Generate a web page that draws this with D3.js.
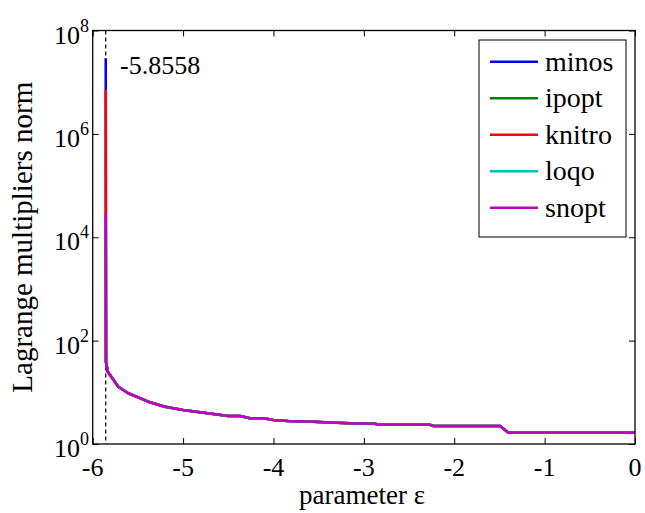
<!DOCTYPE html>
<html>
<head>
<meta charset="utf-8">
<script src="https://cdn.jsdelivr.net/npm/d3@7"></script>
<style>
  html, body { margin: 0; padding: 0; background: #fff; }
  svg { display: block; }
  svg text { font-family: "Liberation Serif", "Times New Roman", Times, "DejaVu Serif", serif; }
</style>
</head>
<body>
<svg id="chart" width="645" height="513"></svg>
<script>
// Continuation parameter values (epsilon)
const epsilon = [-5.8558, -5.853, -5.833, -5.717, -5.606, -5.385, -5.20, -5.0, -4.813, -4.666,
  -4.50, -4.37, -4.26, -4.11, -4.0, -3.836, -3.56, -3.30, -3.08, -2.90,
  -2.82, -2.27, -2.23, -1.493, -1.40, 0];

// Norm of the Lagrange multipliers after the first point (shared by all solvers)
const curveNorm = [38.6, 25, 12.8, 9.6, 6.6, 5.27, 4.55, 4.1, 3.8, 3.48,
  3.48, 3.14, 3.14, 2.91, 2.79, 2.70, 2.58, 2.49, 2.49, 2.36,
  2.36, 2.23, 2.23, 1.65, 1.65];

// Solvers, their colours and the multiplier norm each one reports at epsilon = -5.8558
const solvers = ["minos", "ipopt", "knitro", "loqo", "snopt"];
const colors = ["#0000ff", "#008000", "#ff0000", "#00bfbf", "#bf00bf"];
const spikeNorm = [2.9e7, 1.5e4, 7.06e6, 2.2e4, 2.94e4];

const xTicks = [-6, -5, -4, -3, -2, -1, 0];
const yTickExp = [0, 2, 4, 6, 8];
const criticalEps = -5.8558;

const serif = "'Liberation Serif', 'Times New Roman', Times, 'DejaVu Serif', serif";
const svg = d3.select("#chart").attr("font-family", serif);
const plotLeft = 92.7, plotRight = 635, plotTop = 30.5, plotBottom = 444;

const x = d3.scaleLinear().domain([-6, 0]).range([plotLeft, plotRight]);
const y = d3.scaleLog().domain([1, 1e8]).range([plotBottom, plotTop]);

const series = solvers.map((name, i) => ({
  name, color: colors[i],
  values: epsilon.map((e, j) => ({ e, v: j === 0 ? spikeNorm[i] : curveNorm[j - 1] }))
}));

// Dashed marker at the critical parameter value
svg.append("line")
  .attr("x1", x(criticalEps)).attr("x2", x(criticalEps))
  .attr("y1", plotTop).attr("y2", plotBottom)
  .attr("stroke", "#000").attr("stroke-width", 1.2)
  .attr("stroke-dasharray", "4,3");

const line = d3.line().x(d => x(d.e)).y(d => y(d.v));
svg.append("g").selectAll("path").data(series).join("path")
  .attr("d", d => line(d.values))
  .attr("fill", "none")
  .attr("stroke", d => d.color)
  .attr("stroke-width", 2.6)
  .attr("stroke-linejoin", "round");

// Axes: ticks drawn inward on all four sides
const tickLen = 6;
const xAxisB = d3.axisBottom(x).tickValues(xTicks).tickSize(-tickLen).tickFormat("");
const xAxisT = d3.axisTop(x).tickValues(xTicks).tickSize(-tickLen).tickFormat("");
const yVals = yTickExp.map(p => Math.pow(10, p));
const yAxisL = d3.axisLeft(y).tickValues(yVals).tickSize(-tickLen).tickFormat("");
const yAxisR = d3.axisRight(y).tickValues(yVals).tickSize(-tickLen).tickFormat("");

function styleAxis(g) {
  g.select(".domain").remove();
  g.selectAll(".tick line").attr("stroke", "#000").attr("stroke-width", 1);
}
svg.append("g").attr("transform", `translate(0,${plotBottom})`).call(xAxisB).call(styleAxis);
svg.append("g").attr("transform", `translate(0,${plotTop})`).call(xAxisT).call(styleAxis);
svg.append("g").attr("transform", `translate(${plotLeft},0)`).call(yAxisL).call(styleAxis);
svg.append("g").attr("transform", `translate(${plotRight},0)`).call(yAxisR).call(styleAxis);

// Frame
svg.append("rect")
  .attr("x", plotLeft).attr("y", plotTop)
  .attr("width", plotRight - plotLeft).attr("height", plotBottom - plotTop)
  .attr("fill", "none").attr("stroke", "#000").attr("stroke-width", 1.3);

// Tick labels
svg.append("g").selectAll("text").data(xTicks).join("text")
  .attr("font-family", serif)
  .attr("x", d => x(d)).attr("y", 476)
  .attr("text-anchor", "middle")
  .attr("font-size", 26)
  .text(d => d);

const yl = svg.append("g").selectAll("text").data(yTickExp).join("text")
  .attr("font-family", serif)
  .attr("x", 89).attr("y", d => y(Math.pow(10, d)) + 13)
  .attr("text-anchor", "end")
  .attr("font-size", 26);
yl.append("tspan").text("10");
yl.append("tspan").attr("dy", -12).attr("font-size", 18).text(d => d);

// Axis titles
svg.append("text")
  .attr("font-family", serif)
  .attr("x", 362).attr("y", 504)
  .attr("text-anchor", "middle")
  .attr("font-size", 27)
  .text("parameter ε");

svg.append("text")
  .attr("font-family", serif)
  .attr("transform", `translate(32,${(plotTop + plotBottom) / 2}) rotate(-90)`)
  .attr("text-anchor", "middle")
  .attr("font-size", 29)
  .text("Lagrange multipliers norm");

// Annotation of the critical value
svg.append("text")
  .attr("font-family", serif)
  .attr("x", 120).attr("y", 74)
  .attr("font-size", 26)
  .text(criticalEps.toFixed(4));

// Legend
const lg = svg.append("g");
lg.append("rect")
  .attr("x", 479).attr("y", 40).attr("width", 147).attr("height", 197)
  .attr("fill", "#fff").attr("stroke", "#000").attr("stroke-width", 1);
const rowY = d3.scalePoint().domain(solvers).range([61.7, 207.7]);
const item = lg.selectAll("g.item").data(series).join("g").attr("class", "item");
item.append("line")
  .attr("x1", 490).attr("x2", 538)
  .attr("y1", d => rowY(d.name)).attr("y2", d => rowY(d.name))
  .attr("stroke", d => d.color).attr("stroke-width", 2.6);
item.append("text")
  .attr("font-family", serif)
  .attr("x", 545).attr("y", d => rowY(d.name) + 9)
  .attr("font-size", 28)
  .text(d => d.name);
</script>
</body>
</html>
